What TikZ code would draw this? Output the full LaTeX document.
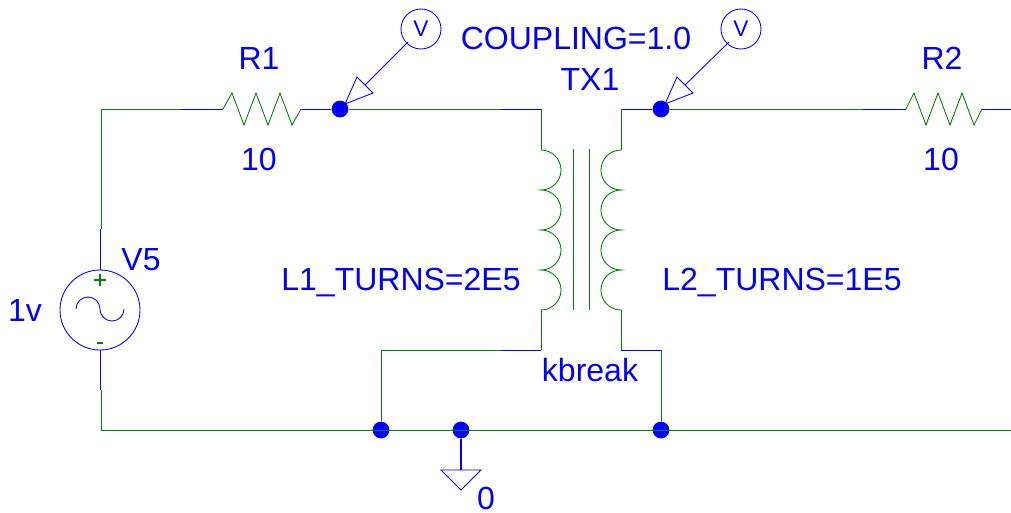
\documentclass[tikz,border=0pt]{standalone}
\usepackage{fontspec}
\setmainfont{Liberation Sans}
\definecolor{wgreen}{RGB}{0,128,0}
\definecolor{wblue}{RGB}{0,0,255}
\tikzset{
  gw/.style={draw=wgreen,line width=0.65pt},
  bw/.style={draw=wblue,line width=0.65pt},
  part/.style={draw=wgreen,line width=0.65pt,line join=miter},
  sym/.style={draw=wblue,line width=0.65pt},
  dotn/.style={circle,fill=wblue,inner sep=0pt,minimum size=12.6pt},
  lab/.style={text=wblue,font=\fontsize{24}{28}\selectfont,inner sep=0pt,anchor=base},
  probe/.style={circle,draw=wblue,line width=0.65pt,inner sep=0pt,minimum size=30pt,text=wblue,font=\fontsize{17}{20}\selectfont},
}
\begin{document}
\begin{tikzpicture}[x=0.75pt,y=-0.75pt]
\useasboundingbox[fill=white] (0,0) rectangle (1011,512);
% named points
\coordinate (tl) at (101,109);
\coordinate (bl) at (101,430);
\coordinate (br) at (1011,430);
\coordinate (r1a) at (223,109);
\coordinate (r1b) at (301,109);
\coordinate (r2a) at (906,109);
\coordinate (r2b) at (982,109);
\coordinate (p1) at (541,109);
\coordinate (p1t) at (541,150);
\coordinate (p1b) at (541,310);
\coordinate (p1e) at (541,350);
\coordinate (s1) at (621,109);
\coordinate (s1t) at (621,150);
\coordinate (s1b) at (621,310);
\coordinate (s1e) at (621,350);
\coordinate (gnl) at (381,350);
\coordinate (gnr) at (661,350);
\coordinate (gtip) at (461,470);
\coordinate (rend) at (1011,109);
% nodes
\node[circle,draw=wblue,line width=0.65pt,minimum size=60pt,inner sep=0pt] (src) at (100,310) {};
\node[dotn] (d1) at (340,109) {};
\node[dotn] (d2) at (661,109) {};
\node[dotn] (d3) at (381,430) {};
\node[dotn] (d4) at (461,430) {};
\node[dotn] (d5) at (661,430) {};
\node[probe] (v1) at (421,29) {V};
\node[probe] (v2) at (741,29) {V};
% wires
\draw[bw] (100,229) -- (src.north);
\draw[gw] (101,229) -- (tl) -- (181,109);
\draw[bw] (181,109) -- (r1a);
\draw[bw] (r1b) -- (d1);
\draw[gw] (d1) -- (501,109);
\draw[bw] (501,109) -- (p1);
\draw[gw] (p1) -- (p1t);
\draw[bw] (s1) -- (d2);
\draw[gw] (s1) -- (s1t);
\draw[gw] (d2) -- (863,109);
\draw[bw] (863,109) -- (r2a);
\draw[bw] (r2b) -- (rend);
\draw[bw] (src.south) -- (100,390);
\draw[gw] (101,390) -- (bl) -- (br);
\draw[gw] (p1b) -- (p1e);
\draw[bw] (p1e) -- (501,350);
\draw[gw] (501,350) -- (gnl) -- (d3);
\draw[gw] (s1b) -- (s1e);
\draw[bw] (s1e) -- (gnr);
\draw[gw] (gnr) -- (d5);
% resistors
\draw[part] (r1a) -- (232,93) -- (244,125) -- (256,93) -- (268,125) -- (280,93) -- (292,125) -- (r1b);
\draw[part] (r2a) -- (914,93) -- (926,125) -- (938,93) -- (950,125) -- (962,93) -- (974,125) -- (r2b);
% coils
\draw[part] (p1t)
  arc[start angle=90,end angle=-90,radius=15pt]
  arc[start angle=90,end angle=-90,radius=15pt]
  arc[start angle=90,end angle=-90,radius=15pt]
  arc[start angle=90,end angle=-90,radius=15pt];
\draw[part] (s1t)
  arc[start angle=90,end angle=270,radius=15pt]
  arc[start angle=90,end angle=270,radius=15pt]
  arc[start angle=90,end angle=270,radius=15pt]
  arc[start angle=90,end angle=270,radius=15pt];
\draw[part] (573,149) -- (573,310);
\draw[part] (589,149) -- (589,310);
% source symbol
\draw[sym] (76,309) arc[start angle=180,end angle=0,radius=9pt] arc[start angle=180,end angle=360,radius=9pt];
\draw[wgreen,line width=1.3pt] (94,280) -- (106,280) (100,274) -- (100,286);
\draw[wgreen,line width=1.3pt] (97,343) -- (103,343);
% ground
\draw[bw,line width=0.9pt] (d4) -- (gtip);
\draw[sym,line join=miter] (441,470) -- (481,470) -- (461,490) -- cycle;
% probes
\draw[sym] (408,42) -- (365,85);
\draw[sym,line join=miter] (357,77) -- (373,93) -- (345,104) -- cycle;
\draw[sym] (729,42) -- (685,85);
\draw[sym,line join=miter] (677,77) -- (693,93) -- (665,104) -- cycle;
% labels
\node[lab] (tr1) at (259,69) {R1};
\node[lab] (tr2) at (942,69) {R2};
\node[lab] (t101) at (259,170) {10};
\node[lab] (t102) at (941,170) {10};
\node[lab] (tc) at (576,49) {COUPLING=1.0};
\node[lab] (ttx) at (590,90) {TX1};
\node[lab] (tv5) at (141,270) {V5};
\node[lab] (t1v) at (25,321) {1v};
\node[lab] (tl1) at (401,290) {L1\_TURNS=2E5};
\node[lab] (tl2) at (782,290) {L2\_TURNS=1E5};
\node[lab] (tk) at (590,381) {kbreak};
\node[lab] (t0) at (486,509) {0};
\end{tikzpicture}
\end{document}
